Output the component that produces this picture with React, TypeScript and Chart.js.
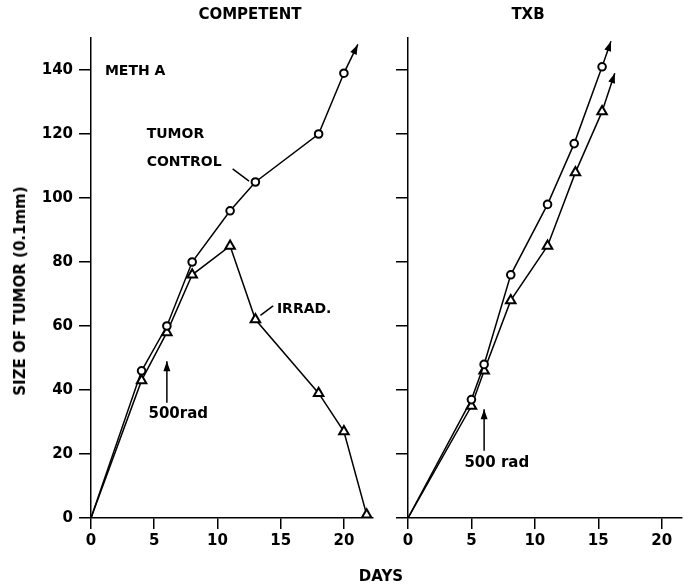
import React, { useEffect, useRef } from "react";
import { Chart, registerables } from "chart.js";

Chart.register(...registerables);

// ---- Data ----
const competentControlDays = [0, 4, 6, 8, 11, 13, 18, 20];
const competentControlSize = [0, 46, 60, 80, 96, 105, 120, 139];
const competentControlArrowTip = [21.1, 148];

const competentIrradDays = [0, 4, 6, 8, 11, 13, 18, 20, 21.8];
const competentIrradSize = [0, 43, 58, 76, 85, 62, 39, 27, 1];

const txbControlDays = [0, 5, 6, 8.1, 11, 13.1, 15.3];
const txbControlSize = [0, 37, 48, 76, 98, 117, 141];
const txbControlArrowTip = [16, 149];

const txbIrradDays = [0, 5, 6, 8.1, 11, 13.2, 15.3];
const txbIrradSize = [0, 35, 46, 68, 85, 108, 127];
const txbIrradArrowTip = [16.3, 139];

const xTickStep = 5;
const yTickStep = 20;
const yMax = 150;

const FONT = "'DejaVu Sans', 'Liberation Sans', sans-serif";

const toPoints = (xs: number[], ys: number[]) => xs.map((x, i) => ({ x, y: ys[i] }));

function drawHead(ctx: CanvasRenderingContext2D, x0: number, y0: number, x1: number, y1: number, len = 10, half = 3.5) {
  const ang = Math.atan2(y1 - y0, x1 - x0);
  ctx.beginPath();
  ctx.moveTo(x1, y1);
  ctx.lineTo(x1 - len * Math.cos(ang) + half * Math.sin(ang), y1 - len * Math.sin(ang) - half * Math.cos(ang));
  ctx.lineTo(x1 - len * Math.cos(ang) - half * Math.sin(ang), y1 - len * Math.sin(ang) + half * Math.cos(ang));
  ctx.closePath();
  ctx.fill();
}

const annotate = {
  id: "annotate",
  afterDatasetsDraw(chart: any, _args: any, opts: any) {
    const { ctx } = chart;
    const x = chart.scales.x;
    const y = chart.scales.y;
    ctx.save();
    ctx.fillStyle = "#000";
    ctx.strokeStyle = "#000";
    ctx.lineWidth = 1.5;
    for (const n of opts.notes || []) {
      ctx.font = `bold ${n.size}px ${FONT}`;
      ctx.textAlign = n.align;
      ctx.textBaseline = "middle";
      ctx.fillText(n.text, x.getPixelForValue(n.x), y.getPixelForValue(n.y));
    }
    for (const l of opts.leaders || []) {
      const x0 = x.getPixelForValue(l.from[0]);
      const y0 = y.getPixelForValue(l.from[1]);
      const x1 = x.getPixelForValue(l.to[0]);
      const y1 = y.getPixelForValue(l.to[1]);
      ctx.beginPath();
      ctx.moveTo(x0, y0);
      ctx.lineTo(x1, y1);
      ctx.stroke();
      if (l.head) drawHead(ctx, x0, y0, x1, y1);
    }
    chart.data.datasets.forEach((ds: any, i: number) => {
      if (!ds.arrow) return;
      const pts = chart.getDatasetMeta(i).data;
      const a = pts[pts.length - 2];
      const b = pts[pts.length - 1];
      drawHead(ctx, a.x, a.y, b.x, b.y);
    });
    ctx.restore();
  },
};

const seriesStyle = (style: string) => ({
  borderColor: "#000",
  borderWidth: 1.5,
  pointStyle: style,
  pointRadius: (c: any) => (c.dataIndex === 0 ? 0 : style === "triangle" ? 5.5 : 3.8),
  pointBorderWidth: 2,
  pointBackgroundColor: "#fff",
  pointBorderColor: "#000",
  tension: 0,
  order: 0,
});

const arrowStyle = {
  borderColor: "#000",
  borderWidth: 1.5,
  pointRadius: 0,
  tension: 0,
  order: 1,
  arrow: true,
};

function makeOptions(xMax: number, yWidth: number, showYLabels: boolean, padRight: number, notes: any[], leaders: any[]) {
  const tickFont = { family: FONT, weight: "bold" as const, size: 15 };
  return {
    responsive: false,
    animation: false as const,
    events: [] as any[],
    layout: { padding: { top: 38, right: padRight, left: 0, bottom: 0 } },
    plugins: {
      legend: { display: false },
      tooltip: { enabled: false },
      title: { display: false },
      annotate: { notes, leaders },
    },
    scales: {
      x: {
        type: "linear" as const,
        min: 0,
        max: xMax,
        border: { display: true, color: "#000", width: 1.5 },
        grid: { display: true, drawOnChartArea: false, drawTicks: true, tickLength: 11, color: "#000", lineWidth: 1.5 },
        ticks: {
          stepSize: xTickStep,
          includeBounds: false,
          autoSkip: false,
          maxRotation: 0,
          color: "#000",
          font: tickFont,
          padding: 3,
        },
        afterFit: (s: any) => {
          s.height = 68;
        },
      },
      y: {
        type: "linear" as const,
        min: 0,
        max: yMax,
        border: { display: true, color: "#000", width: 1.5 },
        grid: { display: true, drawOnChartArea: false, drawTicks: true, tickLength: 12, color: "#000", lineWidth: 1.5 },
        ticks: {
          stepSize: yTickStep,
          includeBounds: false,
          autoSkip: false,
          color: "#000",
          font: tickFont,
          padding: 6,
          callback: (v: any) => (showYLabels ? String(v) : ""),
        },
        afterFit: (s: any) => {
          s.width = yWidth;
        },
      },
    },
  };
}

function Panel(props: { left: number; width: number; build: () => any }) {
  const ref = useRef<HTMLCanvasElement | null>(null);
  useEffect(() => {
    if (!ref.current) return;
    const chart = new Chart(ref.current, props.build());
    return () => chart.destroy();
  }, []);
  return (
    <canvas
      ref={ref}
      width={props.width}
      height={586}
      style={{ position: "absolute", left: props.left, top: 0, width: props.width, height: 586 }}
    />
  );
}

const buildCompetent = () => ({
  type: "line",
  data: {
    datasets: [
      { ...seriesStyle("circle"), data: toPoints(competentControlDays, competentControlSize) },
      { ...seriesStyle("triangle"), data: toPoints(competentIrradDays, competentIrradSize) },
      {
        ...arrowStyle,
        data: [
          { x: competentControlDays[competentControlDays.length - 1], y: competentControlSize[competentControlSize.length - 1] },
          { x: competentControlArrowTip[0], y: competentControlArrowTip[1] },
        ],
      },
    ],
  },
  options: makeOptions(
    22.3,
    91,
    true,
    11,
    [
      { text: "METH A", x: 1.1, y: 139.5, align: "left", size: 14 },
      { text: "TUMOR", x: 4.4, y: 120, align: "left", size: 14 },
      { text: "CONTROL", x: 4.4, y: 111, align: "left", size: 14 },
      { text: "IRRAD.", x: 14.7, y: 65.3, align: "left", size: 14 },
      { text: "500rad", x: 6.9, y: 32.5, align: "center", size: 15 },
    ],
    [
      { from: [11.2, 109.1], to: [12.5, 105.3] },
      { from: [14.4, 66.3], to: [13.4, 63.3] },
      { from: [6, 36], to: [6, 49], head: true },
    ]
  ),
  plugins: [annotate],
});

const buildTxb = () => ({
  type: "line",
  data: {
    datasets: [
      { ...seriesStyle("circle"), data: toPoints(txbControlDays, txbControlSize) },
      { ...seriesStyle("triangle"), data: toPoints(txbIrradDays, txbIrradSize) },
      {
        ...arrowStyle,
        data: [
          { x: txbControlDays[txbControlDays.length - 1], y: txbControlSize[txbControlSize.length - 1] },
          { x: txbControlArrowTip[0], y: txbControlArrowTip[1] },
        ],
      },
      {
        ...arrowStyle,
        data: [
          { x: txbIrradDays[txbIrradDays.length - 1], y: txbIrradSize[txbIrradSize.length - 1] },
          { x: txbIrradArrowTip[0], y: txbIrradArrowTip[1] },
        ],
      },
    ],
  },
  options: makeOptions(
    21.6,
    24,
    false,
    22,
    [{ text: "500 rad", x: 7.0, y: 17.2, align: "center", size: 15 }],
    [{ from: [6, 21], to: [6, 34], head: true }]
  ),
  plugins: [annotate],
});

const textStyle: React.CSSProperties = {
  position: "absolute",
  fontFamily: FONT,
  fontWeight: "bold",
  fontSize: 15,
  color: "#000",
  whiteSpace: "nowrap",
  lineHeight: "18px",
};

export default function App() {
  return (
    <div style={{ position: "absolute", left: 0, top: 0, width: 684, height: 586, background: "#fff", overflow: "hidden" }}>
      <Panel left={0} width={384} build={buildCompetent} />
      <Panel left={384} width={320} build={buildTxb} />
      <div style={{ ...textStyle, left: 250, top: 14, transform: "translate(-50%, -50%)" }}>COMPETENT</div>
      <div style={{ ...textStyle, left: 528, top: 14, transform: "translate(-50%, -50%)" }}>TXB</div>
      <div style={{ ...textStyle, left: 381, top: 576, transform: "translate(-50%, -50%)" }}>DAYS</div>
      <div style={{ ...textStyle, left: 20, top: 291, transform: "translate(-50%, -50%) rotate(-90deg)" }}>
        SIZE OF TUMOR (0.1mm)
      </div>
    </div>
  );
}
